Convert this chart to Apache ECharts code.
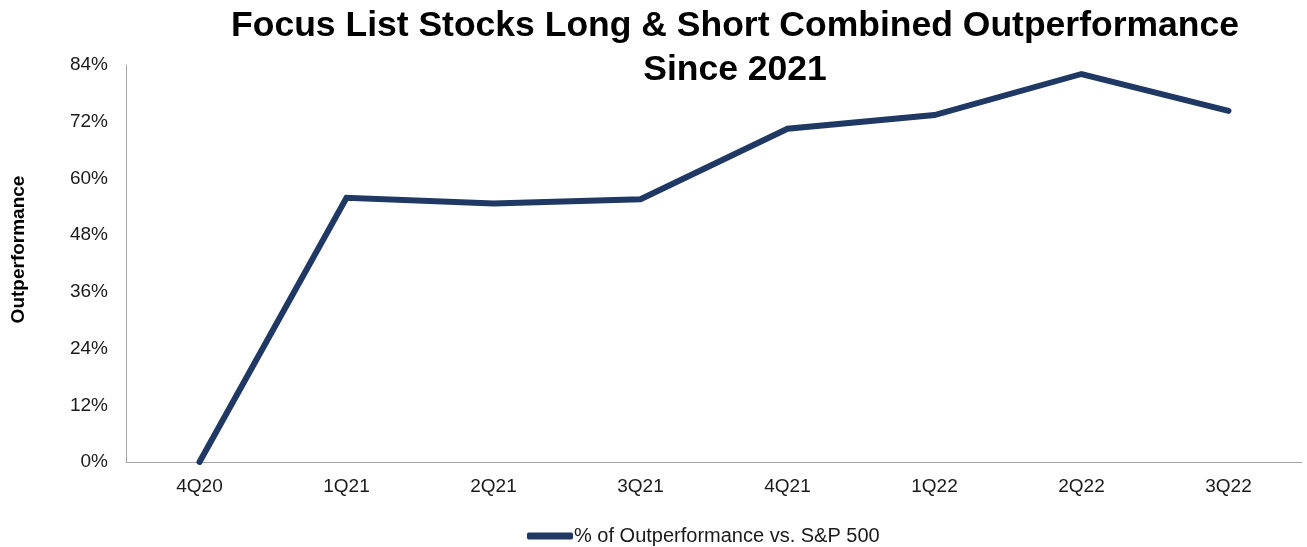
<!DOCTYPE html>
<html>
<head>
<meta charset="utf-8">
<script src="https://cdn.jsdelivr.net/npm/echarts@6/dist/echarts.min.js"></script>
<style>
  html, body { margin: 0; padding: 0; background: #fff; }
  #chart { width: 1307px; height: 547px; }
</style>
</head>
<body>
<div id="chart"></div>
<script>
const quarters = ['4Q20', '1Q21', '2Q21', '3Q21', '4Q21', '1Q22', '2Q22', '3Q22']
const outperformance = [0, 55.9, 54.7, 55.6, 70.5, 73.4, 82.1, 74.3]
const seriesName = '% of Outperformance vs. S&P 500'
const lineColor = '#1F3864'
const font = 'Liberation Sans, Arial, sans-serif'

const chart = echarts.init(document.getElementById('chart'))

chart.setOption({
  animation: false,
  title: {
    text: 'Focus List Stocks Long & Short Combined Outperformance\nSince 2021',
    left: 730,
    textAlign: 'center',
    top: -1,
    textStyle: {
      fontFamily: font,
      fontSize: 35.5,
      fontWeight: 'bold',
      color: '#000',
      lineHeight: 44
    }
  },
  legend: {
    left: 527,
    top: 526,
    padding: 0,
    itemWidth: 46,
    itemHeight: 7,
    itemGap: 0,
    icon: 'roundRect',
    textStyle: { fontFamily: font, fontSize: 20, color: '#1a1a1a', padding: [0, 0, 0, -4] },
    data: [seriesName]
  },
  grid: {
    left: 126,
    right: 5,
    top: 65,
    bottom: 85,
    containLabel: false,
    outerBoundsMode: 'none'
  },
  xAxis: {
    type: 'category',
    data: quarters,
    boundaryGap: true,
    axisLine: { lineStyle: { color: '#a6a6a6', width: 1 } },
    axisTick: { show: false },
    axisLabel: { fontFamily: font, fontSize: 19, color: '#1a1a1a', margin: 15 }
  },
  yAxis: {
    type: 'value',
    min: 0,
    max: 84,
    interval: 12,
    name: 'Outperformance',
    nameLocation: 'middle',
    nameGap: 98,
    nameRotate: 90,
    nameTextStyle: {
      fontFamily: font,
      fontSize: 19,
      fontWeight: 'bold',
      color: '#000',
      padding: [0, 0, 0, 28]
    },
    axisLine: { show: true, lineStyle: { color: '#a6a6a6', width: 1 } },
    axisTick: { show: false },
    splitLine: { show: false },
    axisLabel: {
      fontFamily: font,
      fontSize: 19,
      color: '#1a1a1a',
      margin: 18,
      formatter: v => v + '%'
    }
  },
  series: [
    {
      name: seriesName,
      type: 'line',
      data: outperformance,
      showSymbol: false,
      symbol: 'none',
      itemStyle: { color: lineColor },
      lineStyle: { color: lineColor, width: 6, cap: 'round', join: 'miter' }
    }
  ]
})
</script>
</body>
</html>
